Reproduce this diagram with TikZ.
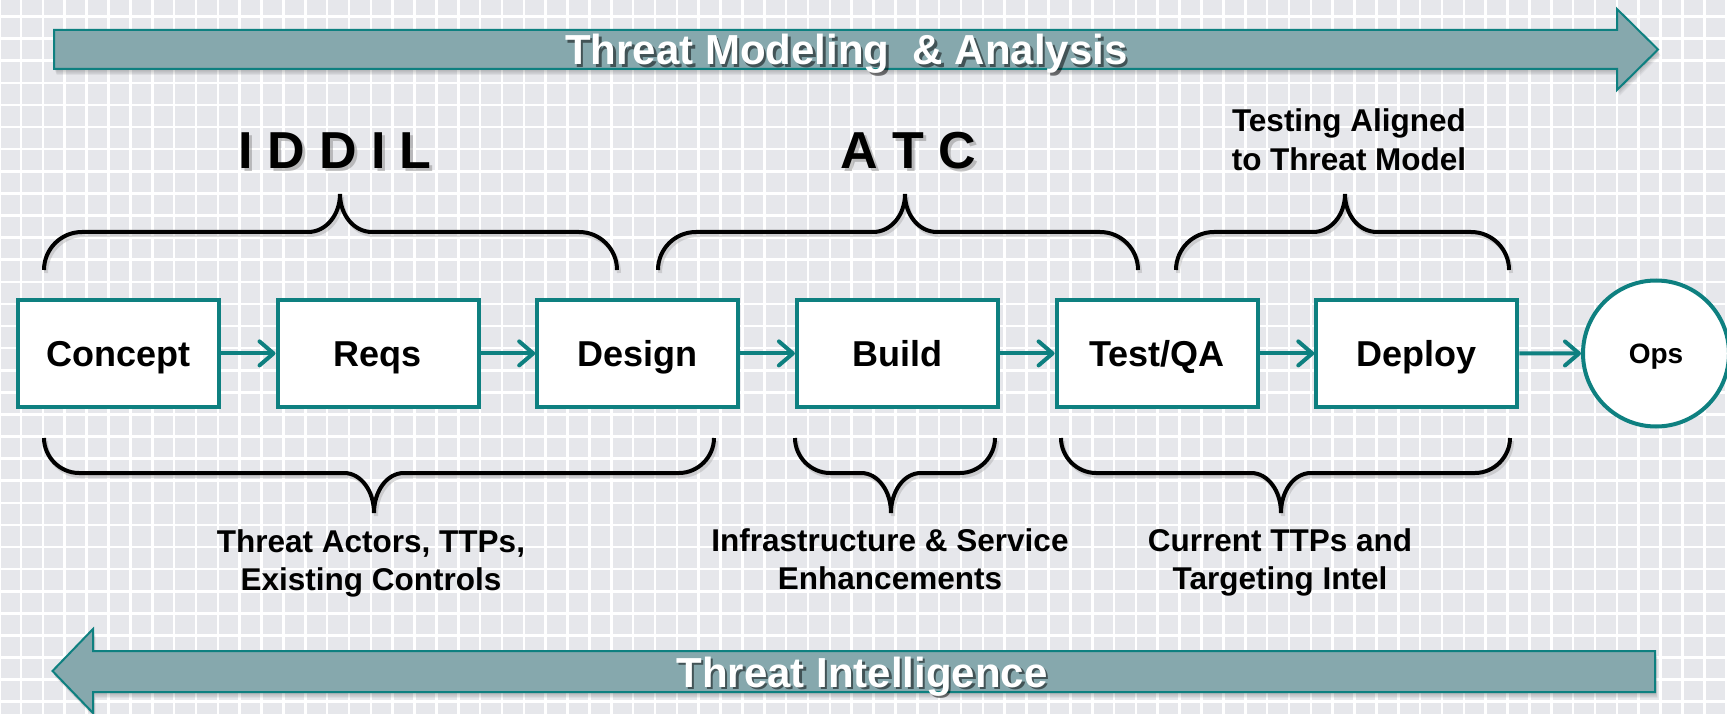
\documentclass[tikz,border=0pt]{standalone}
\usepackage{fontspec}
\setmainfont{Liberation Sans}
\usetikzlibrary{arrows.meta}
\definecolor{paper}{RGB}{230,231,235}
\definecolor{flowteal}{RGB}{14,128,128}
\definecolor{bandfill}{RGB}{134,168,173}

% brace opening downwards, tip pointing up: [style] left x, right x, tip x
\newcommand{\bracetop}[4][]{%
  \draw[brace,#1] (#2,270) .. controls (#2,249) and ({#2+17},232) .. ({#2+38},232)
    -- ({#4-32},232) .. controls ({#4-14},232) and (#4,215) .. (#4,194)
    .. controls (#4,215) and ({#4+14},232) .. ({#4+32},232)
    -- ({#3-38},232) .. controls ({#3-17},232) and (#3,249) .. (#3,270);}
% brace opening upwards, tip pointing down
\newcommand{\bracebottom}[4][]{%
  \draw[brace,#1] (#2,438) .. controls (#2,457) and ({#2+16},473) .. ({#2+35},473)
    -- ({#4-30},473) .. controls ({#4-13},473) and (#4,491) .. (#4,513)
    .. controls (#4,491) and ({#4+13},473) .. ({#4+30},473)
    -- ({#3-35},473) .. controls ({#3-16},473) and (#3,457) .. (#3,438);}
% the two wide block arrows
\newcommand{\bandright}[1]{\path[#1] (54,30) -- (1617,30) -- (1617,9) -- (1658,49.5)
    -- (1617,90) -- (1617,69) -- (54,69) -- cycle;}
\newcommand{\bandleft}[1]{\path[#1] (1655,651) -- (93,651) -- (93,629) -- (52.5,671)
    -- (93,713) -- (93,692) -- (1655,692) -- cycle;}

\begin{document}
\begin{tikzpicture}[x=1pt,y=-1pt,
  gridline/.style={white, line width=2.6pt},
  band/.style={fill=bandfill, draw=flowteal, line width=2pt, line join=miter},
  bandshade/.style={fill=black, opacity=0.05},
  bandtext/.style={text=white, font=\fontsize{42}{48}\selectfont\bfseries, inner sep=0pt, anchor=base},
  bandtextshade/.style={bandtext, text=black, text opacity=0.5},
  stage/.style={draw=flowteal, line width=4pt, fill=white, minimum width=201pt,
    minimum height=107pt, inner sep=0pt, text height=26pt, text depth=0pt,
    font=\fontsize{36}{42}\selectfont\bfseries},
  opsnode/.style={circle, draw=flowteal, line width=4pt, fill=white, minimum size=146pt,
    inner sep=0pt, text height=20pt, text depth=0pt, font=\fontsize{28}{32}\selectfont\bfseries},
  flow/.style={flowteal, line width=4pt, -{Straight Barb[length=14pt, width=24pt, round]}},
  brace/.style={black, line width=4pt},
  braceshade/.style={black!40, opacity=0.35},
  phase/.style={font=\fontsize{52}{60}\selectfont\bfseries, inner sep=0pt, anchor=base},
  phaseshade/.style={phase, text=black!50, text opacity=0.45},
  note/.style={font=\fontsize{31.5}{38.5}\selectfont\bfseries, align=center, inner sep=0pt, anchor=base},
]
\useasboundingbox (0,0) rectangle (1727,714);
\fill[paper] (0,0) rectangle (1727,714);

% graph-paper background
\foreach \k in {0,...,79} \draw[gridline] ({21.86*\k-0.8},0) -- ++(0,714);
\foreach \k in {0,...,33} \draw[gridline] (0,{22.1*\k-5.5}) -- ++(1727,0);

% block arrows with soft shadows
\foreach \s in {1,...,5} {\bandright{bandshade, shift={({0.5*\s},{1.2*\s})}}}
\bandright{band}
\foreach \s in {1,...,5} {\bandleft{bandshade, shift={({0.5*\s},{1.2*\s})}}}
\bandleft{band}
\node[bandtextshade] (modelingshade) at (849,67.5) {Threat Modeling\ \ \& Analysis};
\node[bandtext] (modeling) at (846.5,65) {Threat Modeling\ \ \& Analysis};
\node[bandtextshade] (intelshade) at (864.5,689.5) {Threat Intelligence};
\node[bandtext] (intel) at (862,687) {Threat Intelligence};

% phase headings
\node[phaseshade] (iddilshade) at (338,172) {I D D I L};
\node[phase] (iddil) at (335,169) {I D D I L};
\node[phaseshade] (atcshade) at (911.5,172) {A T C};
\node[phase] (atc) at (908.5,169) {A T C};
% multi-line notes: the base anchor sits on the last line
\node[note] (aligned) at (1349,170.2) {Testing Aligned\\to Threat Model};

% braces
\bracetop[braceshade, shift={(2,3)}]{44}{617}{340}
\bracetop[braceshade, shift={(2,3)}]{658}{1138}{905}
\bracetop[braceshade, shift={(2,3)}]{1176}{1509}{1345}
\bracebottom[braceshade, shift={(2,3)}]{44}{714}{374}
\bracebottom[braceshade, shift={(2,3)}]{795}{995}{891}
\bracebottom[braceshade, shift={(2,3)}]{1061}{1510}{1281}
\bracetop{44}{617}{340}
\bracetop{658}{1138}{905}
\bracetop{1176}{1509}{1345}
\bracebottom{44}{714}{374}
\bracebottom{795}{995}{891}
\bracebottom{1061}{1510}{1281}

% lifecycle stages
\node[stage] (concept) at (118.3,353.4) {Concept};
\node[stage] (reqs)    at (378.0,353.4) {Reqs};
\node[stage] (design)  at (637.7,353.4) {Design};
\node[stage] (build)   at (897.4,353.4) {Build};
\node[stage] (test)    at (1157.1,353.4) {Test/QA};
\node[stage] (deploy)  at (1416.8,353.4) {Deploy};
\node[opsnode] (ops)   at (1656,353.5) {Ops};

\draw[flow] (concept) -- (reqs);
\draw[flow] (reqs) -- (design);
\draw[flow] (design) -- (build);
\draw[flow] (build) -- (test);
\draw[flow] (test) -- (deploy);
\draw[flow] (deploy) -- (ops);

% inputs under the stages
\node[note] (actors) at (371,590.5) {Threat Actors, TTPs,\\Existing Controls};
\node[note] (infra)  at (890,589.5) {Infrastructure \& Service\\Enhancements};
\node[note] (intelnote) at (1280,589.5) {Current TTPs and\\Targeting Intel};
\end{tikzpicture}
\end{document}
